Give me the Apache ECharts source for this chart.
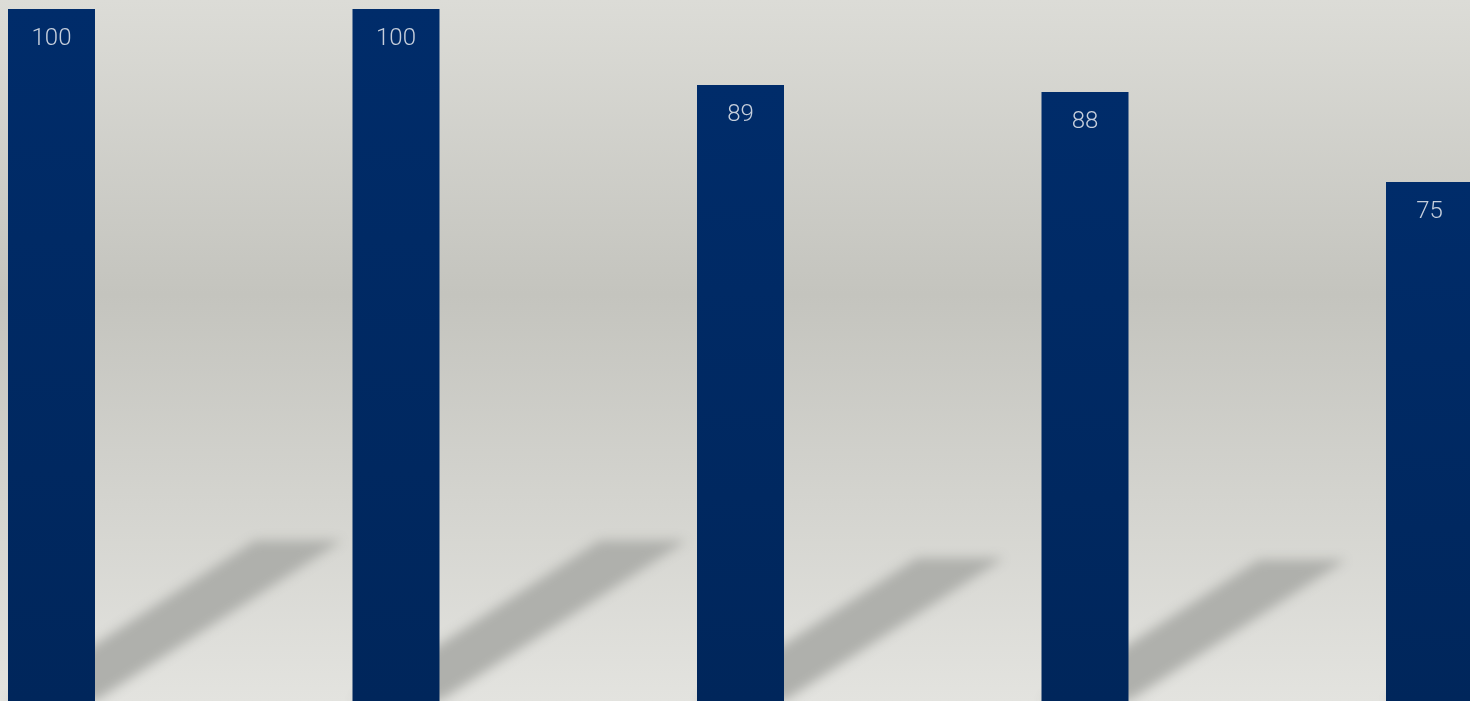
<!DOCTYPE html>
<html>
<head>
<meta charset="utf-8">
<style>
  html, body { margin: 0; padding: 0; width: 100%; height: 100%; overflow: hidden; }
  #chart { width: 1470px; height: 701px; }
</style>
<script src="https://cdn.jsdelivr.net/npm/echarts@6/dist/echarts.min.js"></script>
</head>
<body>
<div id="chart"></div>
<script>
var categories = ['1', '2', '3', '4', '5'];
var values = [100, 100, 89, 88, 75];

var chart = echarts.init(document.getElementById('chart'));
var BAR_W = 87;
var OFF = 4000;

chart.setOption({
  animation: false,
  backgroundColor: {
    type: 'linear', x: 0, y: 0, x2: 0, y2: 1,
    colorStops: [
      { offset: 0, color: '#dcdcd7' },
      { offset: 0.42, color: '#c4c4be' },
      { offset: 1, color: '#e3e3df' }
    ]
  },
  grid: { left: 51.5, right: 40.5, top: 9, bottom: 0 },
  xAxis: {
    type: 'category', data: categories, boundaryGap: false, show: false
  },
  yAxis: { type: 'value', min: 0, max: 100, show: false },
  series: [
    {
      type: 'custom',
      z: 1,
      clip: false,
      silent: true,
      data: values.map(function (v, i) { return [i, v]; }),
      renderItem: function (params, api) {
        var top = api.coord([api.value(0), api.value(1)]);
        var base = api.coord([api.value(0), 0]);
        var h = base[1] - top[1];
        var dx = 0.357 * h, dy = 0.232 * h;
        var xl = base[0] - BAR_W / 2, xr = base[0] + BAR_W / 2, yb = base[1];
        var pts = [
          [xl - OFF, yb], [xr - OFF, yb],
          [xr + dx - OFF, yb - dy], [xl + dx - OFF, yb - dy]
        ];
        return {
          type: 'polygon',
          shape: { points: pts },
          style: {
            fill: '#b0b1ad',
            shadowColor: '#afb0ac',
            shadowBlur: 12,
            shadowOffsetX: OFF,
            shadowOffsetY: 0
          }
        };
      }
    },
    {
      type: 'bar',
      z: 3,
      data: values,
      barWidth: BAR_W,
      itemStyle: {
        color: {
          type: 'linear', x: 0, y: 0, x2: 0, y2: 1,
          colorStops: [
            { offset: 0, color: '#002c6a' },
            { offset: 1, color: '#00265b' }
          ]
        }
      },
      label: {
        show: true,
        position: 'insideTop',
        distance: 18,
        color: '#c6cfdc',
        fontSize: 24,
        fontWeight: 300,
        fontFamily: 'Roboto'
      }
    }
  ]
});
</script>
</body>
</html>
